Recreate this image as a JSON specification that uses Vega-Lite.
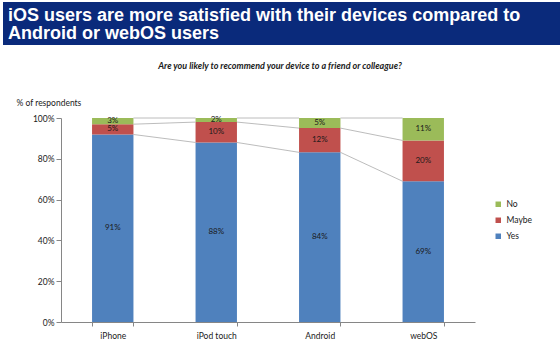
{
  "$schema": "https://vega.github.io/schema/vega-lite/v6.json",
  "padding": {"left": 3, "top": 2, "right": 0, "bottom": 0},
  "background": "white",
  "config": {"view": {"stroke": null}, "font": "Lato"},
  "datasets": {
    "survey": [
      {"device": "iPhone", "dorder": 1, "response": "Yes", "rorder": 1, "share": 0.91},
      {"device": "iPhone", "dorder": 1, "response": "Maybe", "rorder": 2, "share": 0.05},
      {"device": "iPhone", "dorder": 1, "response": "No", "rorder": 3, "share": 0.03},
      {"device": "iPod touch", "dorder": 2, "response": "Yes", "rorder": 1, "share": 0.88},
      {"device": "iPod touch", "dorder": 2, "response": "Maybe", "rorder": 2, "share": 0.10},
      {"device": "iPod touch", "dorder": 2, "response": "No", "rorder": 3, "share": 0.02},
      {"device": "Android", "dorder": 3, "response": "Yes", "rorder": 1, "share": 0.84},
      {"device": "Android", "dorder": 3, "response": "Maybe", "rorder": 2, "share": 0.12},
      {"device": "Android", "dorder": 3, "response": "No", "rorder": 3, "share": 0.05},
      {"device": "webOS", "dorder": 4, "response": "Yes", "rorder": 1, "share": 0.69},
      {"device": "webOS", "dorder": 4, "response": "Maybe", "rorder": 2, "share": 0.20},
      {"device": "webOS", "dorder": 4, "response": "No", "rorder": 3, "share": 0.11}
    ]
  },
  "spacing": 17,
  "vconcat": [
    {
      "width": 557,
      "height": 43,
      "data": {"values": [{}]},
      "mark": {"type": "rect", "color": "#0a2a7b"},
      "title": {
        "text": ["iOS users are more satisfied with their devices compared to", "Android or webOS users"],
        "anchor": "start",
        "frame": "group",
        "offset": -41,
        "dx": 5,
        "font": "Liberation Sans",
        "fontSize": 18,
        "fontWeight": "bold",
        "color": "white",
        "lineHeight": 18.5
      }
    },
    {
      "spacing": 0,
      "hconcat": [
        {
          "width": 13,
          "height": 10,
          "data": {"values": []},
          "mark": "rect"
        },
        {
          "width": 414,
          "height": 204,
          "data": {"name": "survey"},
          "title": {
            "text": "Are you likely to recommend your device to a friend or colleague?",
            "font": "Lato",
            "fontSize": 9,
            "fontStyle": "italic",
            "fontWeight": "bold",
            "color": "#1a1a1a",
            "anchor": "middle",
            "frame": "group",
            "dx": 12,
            "offset": 27
          },
          "encoding": {
            "x": {
              "field": "device",
              "type": "nominal",
              "sort": ["iPhone", "iPod touch", "Android", "webOS"],
              "scale": {"paddingInner": 0.6, "paddingOuter": 0.3},
              "axis": {
                "title": null,
                "labelAngle": 0,
                "tickBand": "extent",
                "domainColor": "#868686",
                "tickColor": "#868686",
                "tickSize": 4,
                "labelPadding": 5,
                "labelFont": "Lato",
                "labelFontSize": 8.5,
                "labelColor": "#1a1a1a"
              }
            }
          },
          "layer": [
            {
              "mark": {"type": "bar"},
              "encoding": {
                "y": {
                  "field": "share",
                  "type": "quantitative",
                  "stack": "normalize",
                  "scale": {"domain": [0, 1], "nice": false},
                  "axis": {
                    "format": ".0%",
                    "values": [0, 0.2, 0.4, 0.6, 0.8, 1],
                    "grid": false,
                    "title": "% of respondents",
                    "titleAngle": 0,
                    "titleAlign": "left",
                    "titleBaseline": "alphabetic",
                    "titleX": -45,
                    "titleY": -13,
                    "titleFont": "Lato",
                    "titleFontSize": 8.5,
                    "titleFontWeight": "normal",
                    "titleColor": "#1a1a1a",
                    "domainColor": "#868686",
                    "tickColor": "#868686",
                    "tickSize": 5,
                    "labelPadding": 2,
                    "labelFont": "Lato",
                    "labelFontSize": 8.5,
                    "labelColor": "#1a1a1a"
                  }
                },
                "color": {
                  "field": "response",
                  "type": "nominal",
                  "scale": {"domain": ["No", "Maybe", "Yes"], "range": ["#9bbb59", "#c0504d", "#4f81bd"]},
                  "legend": {
                    "title": null,
                    "orient": "none",
                    "legendX": 491,
                    "legendY": 198,
                    "symbolType": "square",
                    "symbolSize": 30,
                    "symbolStrokeWidth": 0,
                    "labelFont": "Lato",
                    "labelFontSize": 8.5,
                    "labelColor": "#1a1a1a",
                    "rowPadding": 7,
                    "labelOffset": 4
                  }
                },
                "order": {"field": "rorder", "type": "quantitative"}
              }
            },
            {
              "mark": {"type": "text", "font": "Lato", "fontSize": 8, "color": "#1a1a1a"},
              "encoding": {
                "y": {"field": "share", "type": "quantitative", "stack": "normalize", "bandPosition": 0.5},
                "detail": {"field": "response"},
                "order": {"field": "rorder", "type": "quantitative"},
                "text": {"field": "share", "type": "quantitative", "format": ".0%"}
              }
            },
            {
              "transform": [
                {"stack": "share", "groupby": ["device"], "sort": [{"field": "rorder"}], "as": ["y0", "y1"], "offset": "normalize"},
                {"window": [{"op": "lead", "field": "device", "as": "next"}, {"op": "lead", "field": "y1", "as": "ny1"}], "groupby": ["response"], "sort": [{"field": "dorder"}]},
                {"filter": "datum.next != null"}
              ],
              "mark": {"type": "rule", "color": "#a6a6a6", "strokeWidth": 0.75, "xOffset": 20.7, "x2Offset": -20.7},
              "encoding": {
                "x2": {"field": "next"},
                "y": {"field": "y1", "type": "quantitative"},
                "y2": {"field": "ny1"}
              }
            }
          ]
        }
      ]
    }
  ]
}
